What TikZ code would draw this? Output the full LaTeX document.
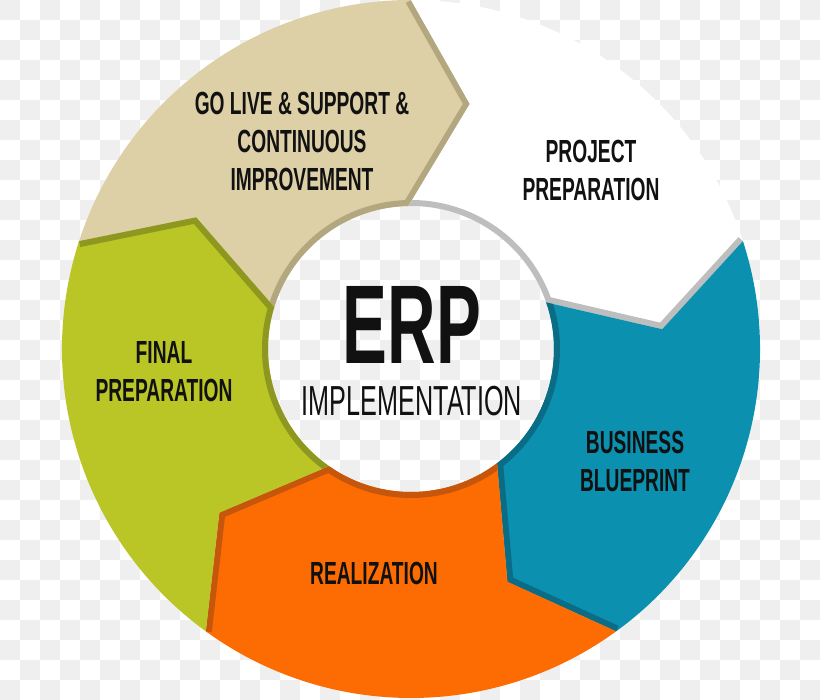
\documentclass[tikz,border=0pt]{standalone}
\usepackage{fontspec}
\setmainfont{Liberation Sans}
\newfontfamily\erpfont[FakeStretch=0.6]{Liberation Sans}
\usepackage{tikz}
\usetikzlibrary{calc,positioning}

\definecolor{tanfill}{HTML}{DDD0A7}
\definecolor{tanedge}{HTML}{B3A77F}
\definecolor{whiteedge}{HTML}{BEBEBE}
\definecolor{bluefill}{HTML}{0B90B0}
\definecolor{blueedge}{HTML}{0A6C85}
\definecolor{orangefill}{HTML}{FC6C02}
\definecolor{orangeedge}{HTML}{C5560C}
\definecolor{greenfill}{HTML}{BAC526}
\definecolor{greenedge}{HTML}{8E9720}
\definecolor{checker}{HTML}{EFEFEF}
\definecolor{ink}{HTML}{111111}

\begin{document}
\begin{tikzpicture}[
    x=1pt,y=1pt,
    phase/.style={
      font=\erpfont\bfseries\fontsize{32}{38}\selectfont,
      align=center,
      inner sep=0pt,
      text=ink
    },
    hubtitle/.style={
      font=\erpfont\bfseries\fontsize{112}{112}\selectfont,
      inner sep=0pt,
      text=ink
    },
    hubsub/.style={
      font=\erpfont\fontsize{42}{42}\selectfont,
      inner sep=0pt,
      text=ink
    }]

    % Helper macro: one arrow shaped phase, starting at angle #1,
    % filled with #2 and shaded with #3 along its head and inner rim.
    \def\R{349pt} \def\rt{252pt} \def\ri{143pt}
    \def\seg#1#2#3{
      \fill[#2] ($(c)+(#1:\R)$) arc[start angle=#1, end angle=#1-72, radius=\R]
        -- ($(c)+(#1-85.5:\rt)$) -- ($(c)+(#1-71:\ri)$)
        arc[start angle=#1-71, end angle=#1+1, radius=\ri]
        -- ($(c)+(#1-13.5:\rt)$) -- cycle;
      \begin{scope}
        \clip ($(c)+(#1:\R)$) arc[start angle=#1, end angle=#1-72, radius=\R]
          -- ($(c)+(#1-85.5:\rt)$) -- ($(c)+(#1-71:\ri)$)
          arc[start angle=#1-71, end angle=#1+1, radius=\ri]
          -- ($(c)+(#1-13.5:\rt)$) -- cycle;
        \draw[#3, line width=12pt, line join=round] ($(c)+(#1-72:\R)$)
          -- ($(c)+(#1-85.5:\rt)$) -- ($(c)+(#1-71:\ri)$)
          arc[start angle=#1-71, end angle=#1+1, radius=\ri];
      \end{scope}
    }

    % Draw the checkered backdrop.
    \useasboundingbox (0,0) rectangle (820,700);
    \fill[white] (0,0) rectangle (820,700);
    \foreach \x in {0,40,...,800}
      \foreach \y in {0,40,...,680} {
        \fill[checker] (\x,\y) rectangle ++(20,20);
        \fill[checker] (\x+20,\y+20) rectangle ++(20,20);
      }

    % Draw the ring of phases.
    \coordinate (c) at (411,351);
    \seg{162}{tanfill}{tanedge}
    \seg{90}{white}{whiteedge}
    \seg{18}{bluefill}{blueedge}
    \seg{-54}{orangefill}{orangeedge}
    \seg{-126}{greenfill}{greenedge}

    % Label the phases.
    \node[phase] (golive) at (302,559)
      {GO LIVE \& SUPPORT \&\\CONTINUOUS\\IMPROVEMENT};
    \node[phase] (projprep) at (591,530) {PROJECT\\PREPARATION};
    \node[phase] (blueprint) at (635,239) {BUSINESS\\BLUEPRINT};
    \node[phase] (realize) at (374,127) {REALIZATION};
    \node[phase] (finalprep) at (164,328) {FINAL\\PREPARATION};

    % Draw the hub title.
    \node[hubtitle] (erp) at (412,375) {ERP};
    \node[hubsub, below=22pt of erp] (impl) {IMPLEMENTATION};

  \end{tikzpicture}
\end{document}
